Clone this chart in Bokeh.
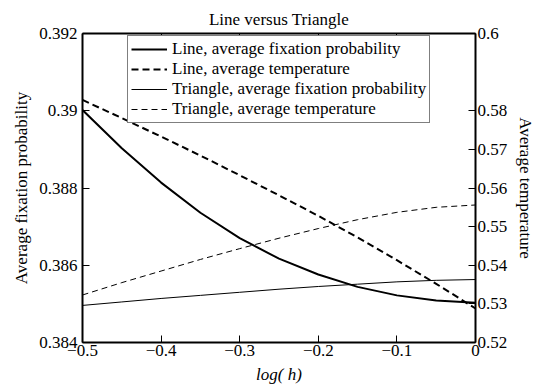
from bokeh.plotting import figure
from bokeh.models import Range1d, LinearAxis, FixedTicker, CustomJSTickFormatter
from bokeh.embed import file_html
from bokeh.resources import INLINE

# ---- data ----
log_h = [-0.5, -0.45, -0.4, -0.35, -0.3, -0.25, -0.2, -0.15, -0.1, -0.05, 0.0]
line_fix = [0.39002, 0.38903, 0.38814, 0.38736, 0.38670, 0.38617, 0.38576, 0.38544, 0.38522, 0.38509, 0.38503]
line_temp = [0.5828, 0.5781, 0.5733, 0.5684, 0.5633, 0.5581, 0.5528, 0.5472, 0.5413, 0.5352, 0.5288]
tri_fix = [0.38496, 0.38505, 0.38514, 0.38522, 0.38530, 0.38538, 0.38545, 0.38551, 0.38557, 0.38561, 0.38563]
tri_temp = [0.5323, 0.5355, 0.5385, 0.5415, 0.5443, 0.5470, 0.5495, 0.5518, 0.5537, 0.5550, 0.5556]

x_ticks = [-0.5, -0.4, -0.3, -0.2, -0.1, 0.0]
left_ticks = [0.384, 0.386, 0.388, 0.39, 0.392]
right_ticks = [0.52, 0.53, 0.54, 0.55, 0.56, 0.57, 0.58, 0.6]

FONT = "Liberation Serif"
FS = "17px"

p = figure(width=538, height=386, output_backend="svg", toolbar_location=None,
           x_range=Range1d(-0.5, 0.0), y_range=Range1d(0.384, 0.392),
           min_border_left=82, min_border_right=63, min_border_top=33, min_border_bottom=42,
           title="Line versus Triangle")
p.extra_y_ranges = {"temp": Range1d(0.52, 0.6)}
p.grid.visible = False
p.outline_line_color = None
p.background_fill_color = "white"
p.border_fill_color = "white"

p.title.align = "center"
p.title.text_font = FONT
p.title.text_font_size = FS
p.title.text_font_style = "normal"
p.title.text_color = "black"
p.title.standoff = 10

fmt = CustomJSTickFormatter(code="return tick.toString().replace('-', '\u2212');")
blank = CustomJSTickFormatter(code="return '';")

def style_axis(ax, ticks):
    ax.ticker = FixedTicker(ticks=ticks)
    ax.formatter = fmt
    ax.major_tick_in = 7
    ax.major_tick_out = 0
    ax.minor_tick_line_color = None
    ax.major_tick_line_color = "black"
    ax.major_tick_line_width = 1
    ax.axis_line_color = "black"
    ax.axis_line_width = 2
    ax.major_label_text_font = FONT
    ax.major_label_text_font_size = FS
    ax.major_label_text_color = "black"
    ax.axis_label_text_font = FONT
    ax.axis_label_text_font_size = FS
    ax.axis_label_text_color = "black"
    ax.axis_label_text_font_style = "normal"

xa = p.xaxis[0]
style_axis(xa, x_ticks)
xa.axis_label = "log( h)"
xa.axis_label_text_font_style = "italic"
xa.major_label_standoff = 2
xa.axis_label_standoff = 6

ya = p.yaxis[0]
style_axis(ya, left_ticks)
ya.axis_label = "Average fixation probability"
ya.major_label_standoff = 5
ya.axis_label_standoff = 5

ra = LinearAxis(y_range_name="temp")
style_axis(ra, right_ticks)
ra.axis_label = "Average temperature"
ra.major_label_standoff = 2
ra.axis_label_standoff = 6
p.add_layout(ra, "right")

ta = LinearAxis()
style_axis(ta, x_ticks)
ta.formatter = blank
ta.major_label_standoff = 0
p.add_layout(ta, "above")

p.line(log_h, line_fix, line_color="black", line_width=2,
       legend_label="Line, average fixation probability")
p.line(log_h, line_temp, line_color="black", line_width=2, line_dash="7 4",
       y_range_name="temp", legend_label="Line, average temperature")
p.line(log_h, tri_fix, line_color="black", line_width=1,
       legend_label="Triangle, average fixation probability")
p.line(log_h, tri_temp, line_color="black", line_width=1, line_dash="6 4",
       y_range_name="temp", legend_label="Triangle, average temperature")

lg = p.legend[0]
lg.location = (45, 219)
lg.label_text_font = FONT
lg.label_text_font_size = FS
lg.label_text_color = "black"
lg.border_line_color = "black"
lg.border_line_width = 1
lg.background_fill_color = "white"
lg.background_fill_alpha = 1
lg.padding = 3
lg.spacing = 0
lg.margin = 0
lg.glyph_width = 36
lg.glyph_height = 18
lg.label_height = 18
lg.label_standoff = 5

open("out.html", "w").write(file_html(p, INLINE))
